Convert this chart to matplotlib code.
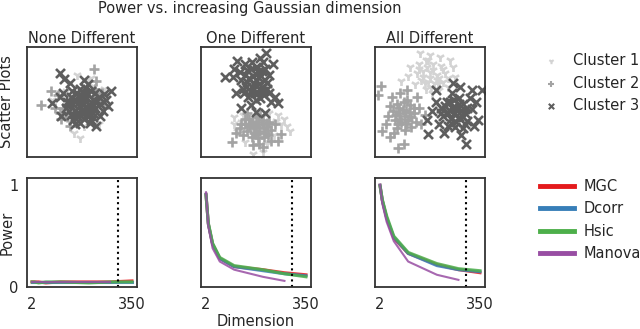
import matplotlib
matplotlib.use("Agg")
import matplotlib.pyplot as plt
import numpy as np

# ---- data ----
titles = ["None Different", "One Different", "All Different"]
cluster_names = ["Cluster 1", "Cluster 2", "Cluster 3"]

# scatter points (fractions of the panel), one list per cluster per panel
none_c1 = [(0.45, 0.55), (0.55, 0.50), (0.50, 0.45), (0.60, 0.58), (0.40, 0.45), (0.48, 0.17),
           (0.43, 0.22), (0.45, 0.75), (0.23, 0.52), (0.65, 0.30), (0.55, 0.70), (0.60, 0.65),
           (0.35, 0.60), (0.68, 0.55), (0.52, 0.28), (0.38, 0.33), (0.58, 0.72), (0.70, 0.62)]
none_c2 = [(0.61, 0.80), (0.63, 0.69), (0.13, 0.47), (0.22, 0.60), (0.31, 0.35), (0.39, 0.28),
           (0.66, 0.50), (0.33, 0.45), (0.62, 0.62), (0.28, 0.56), (0.45, 0.50), (0.52, 0.56),
           (0.56, 0.44), (0.42, 0.40), (0.50, 0.38), (0.70, 0.45), (0.36, 0.36), (0.30, 0.40),
           (0.68, 0.58), (0.25, 0.45)]
none_c3 = [(0.40, 0.55), (0.45, 0.58), (0.50, 0.55), (0.55, 0.57), (0.60, 0.52), (0.42, 0.48),
           (0.47, 0.50), (0.52, 0.48), (0.57, 0.46), (0.62, 0.45), (0.38, 0.42), (0.44, 0.43),
           (0.50, 0.42), (0.55, 0.40), (0.60, 0.40), (0.46, 0.36), (0.52, 0.35), (0.58, 0.34),
           (0.36, 0.50), (0.48, 0.62), (0.53, 0.63), (0.58, 0.60), (0.65, 0.55), (0.66, 0.48),
           (0.40, 0.38), (0.30, 0.76), (0.34, 0.71), (0.23, 0.49), (0.39, 0.67), (0.76, 0.60),
           (0.74, 0.46), (0.72, 0.52), (0.66, 0.37), (0.48, 0.31), (0.44, 0.30), (0.57, 0.31),
           (0.63, 0.28), (0.31, 0.37), (0.52, 0.70), (0.30, 0.55), (0.69, 0.42),
           (0.43, 0.52), (0.48, 0.46), (0.53, 0.52), (0.58, 0.50), (0.45, 0.40), (0.51, 0.39),
           (0.56, 0.43), (0.41, 0.60), (0.50, 0.59), (0.62, 0.58), (0.35, 0.45), (0.63, 0.50),
           (0.54, 0.45), (0.47, 0.55), (0.39, 0.50), (0.60, 0.36), (0.42, 0.34), (0.33, 0.58),
           (0.70, 0.57), (0.55, 0.66)]

one_c1 = [(0.30, 0.36), (0.81, 0.24), (0.47, 0.03), (0.56, 0.05), (0.70, 0.38), (0.73, 0.30),
          (0.33, 0.24), (0.36, 0.32), (0.75, 0.35), (0.62, 0.40), (0.40, 0.14), (0.60, 0.12),
          (0.66, 0.20), (0.30, 0.30), (0.45, 0.26), (0.55, 0.20), (0.38, 0.38), (0.78, 0.28),
          (0.50, 0.32), (0.68, 0.33)]
one_c2 = [(0.45, 0.30), (0.50, 0.28), (0.55, 0.30), (0.60, 0.27), (0.42, 0.24), (0.48, 0.22),
          (0.53, 0.24), (0.58, 0.22), (0.64, 0.25), (0.40, 0.30), (0.46, 0.18), (0.52, 0.17),
          (0.57, 0.18), (0.44, 0.35), (0.50, 0.36), (0.56, 0.34), (0.62, 0.32), (0.35, 0.26),
          (0.38, 0.20), (0.28, 0.14), (0.53, 0.12), (0.64, 0.15), (0.70, 0.15), (0.73, 0.21),
          (0.56, 0.09), (0.47, 0.11), (0.67, 0.30), (0.42, 0.40), (0.48, 0.26), (0.52, 0.32),
          (0.57, 0.26), (0.44, 0.28), (0.50, 0.21), (0.60, 0.31), (0.40, 0.35), (0.54, 0.38),
          (0.61, 0.20), (0.46, 0.32), (0.36, 0.30), (0.32, 0.22)]
one_c3 = [(0.45, 0.80), (0.50, 0.82), (0.55, 0.78), (0.40, 0.75), (0.47, 0.74), (0.53, 0.72),
          (0.58, 0.70), (0.42, 0.68), (0.48, 0.66), (0.55, 0.64), (0.60, 0.62), (0.38, 0.62),
          (0.45, 0.60), (0.52, 0.58), (0.57, 0.56), (0.43, 0.55), (0.50, 0.52), (0.36, 0.70),
          (0.62, 0.75), (0.40, 0.85), (0.56, 0.86), (0.59, 0.95), (0.54, 0.90), (0.33, 0.87),
          (0.22, 0.73), (0.29, 0.73), (0.36, 0.45), (0.50, 0.41), (0.58, 0.40), (0.70, 0.49),
          (0.67, 0.55), (0.64, 0.50), (0.32, 0.58), (0.65, 0.85), (0.30, 0.80), (0.45, 0.47),
          (0.44, 0.72), (0.50, 0.70), (0.52, 0.77), (0.47, 0.63), (0.53, 0.66), (0.42, 0.79),
          (0.49, 0.58), (0.56, 0.60), (0.39, 0.58), (0.58, 0.80), (0.46, 0.86), (0.60, 0.67),
          (0.41, 0.64), (0.54, 0.54), (0.62, 0.58), (0.35, 0.77)]

all_c1 = [(0.41, 0.95), (0.50, 0.93), (0.59, 0.91), (0.32, 0.82), (0.24, 0.69), (0.71, 0.82),
          (0.73, 0.73), (0.58, 0.61), (0.40, 0.85), (0.46, 0.88), (0.53, 0.85), (0.60, 0.83),
          (0.38, 0.76), (0.44, 0.78), (0.50, 0.77), (0.56, 0.75), (0.64, 0.76), (0.42, 0.70),
          (0.48, 0.68), (0.54, 0.67), (0.62, 0.68), (0.36, 0.66), (0.46, 0.62), (0.52, 0.58),
          (0.68, 0.88), (0.30, 0.74), (0.66, 0.64), (0.47, 0.82), (0.53, 0.79), (0.58, 0.72),
          (0.44, 0.73), (0.50, 0.72), (0.56, 0.70), (0.48, 0.88), (0.62, 0.80), (0.40, 0.80),
          (0.51, 0.64), (0.45, 0.67), (0.57, 0.66), (0.66, 0.72)]
all_c2 = [(0.05, 0.65), (0.03, 0.56), (0.06, 0.24), (0.14, 0.18), (0.21, 0.08), (0.26, 0.12),
          (0.15, 0.55), (0.29, 0.61), (0.20, 0.48), (0.26, 0.50), (0.32, 0.47), (0.16, 0.42),
          (0.22, 0.40), (0.28, 0.42), (0.35, 0.40), (0.18, 0.34), (0.24, 0.32), (0.30, 0.34),
          (0.37, 0.32), (0.12, 0.37), (0.20, 0.26), (0.27, 0.25), (0.33, 0.27), (0.40, 0.45),
          (0.10, 0.30), (0.42, 0.30), (0.38, 0.55), (0.23, 0.58), (0.17, 0.22), (0.45, 0.38),
          (0.22, 0.45), (0.27, 0.37), (0.31, 0.41), (0.19, 0.38), (0.25, 0.43), (0.33, 0.36),
          (0.28, 0.30), (0.23, 0.35), (0.35, 0.45), (0.14, 0.46), (0.29, 0.52), (0.21, 0.30)]
all_c3 = [(0.97, 0.61), (0.88, 0.61), (0.71, 0.67), (0.77, 0.64), (0.94, 0.34), (0.83, 0.12),
          (0.48, 0.21), (0.47, 0.34), (0.55, 0.61), (0.65, 0.50), (0.72, 0.52), (0.80, 0.48),
          (0.60, 0.45), (0.67, 0.43), (0.74, 0.44), (0.82, 0.40), (0.88, 0.44), (0.62, 0.37),
          (0.69, 0.35), (0.76, 0.36), (0.84, 0.33), (0.66, 0.28), (0.73, 0.27), (0.80, 0.26),
          (0.58, 0.30), (0.90, 0.28), (0.70, 0.58), (0.86, 0.54), (0.55, 0.50), (0.52, 0.42),
          (0.78, 0.20), (0.63, 0.22), (0.92, 0.50), (0.70, 0.45), (0.76, 0.48), (0.72, 0.39),
          (0.78, 0.42), (0.66, 0.40), (0.74, 0.32), (0.80, 0.36), (0.70, 0.30), (0.84, 0.45),
          (0.64, 0.46), (0.76, 0.54), (0.68, 0.50), (0.82, 0.30), (0.60, 0.40)]

scatter_sets = [[none_c1, none_c2, none_c3],
                [one_c1, one_c2, one_c3],
                [all_c1, all_c2, all_c3]]

# power curves
dims = [2, 10, 25, 50, 100, 200, 275, 350]
dims_manova = [2, 10, 25, 50, 100, 200, 275]
methods = ["MGC", "Dcorr", "Hsic", "Manova"]

none_power = {
    "MGC":    [0.05, 0.05, 0.05, 0.04, 0.05, 0.05, 0.05, 0.06],
    "Dcorr":  [0.05, 0.05, 0.05, 0.05, 0.05, 0.05, 0.05, 0.05],
    "Hsic":   [0.05, 0.05, 0.04, 0.05, 0.05, 0.04, 0.05, 0.05],
    "Manova": [0.05, 0.05, 0.05, 0.05, 0.05, 0.05, 0.05],
}
one_power = {
    "MGC":    [0.91, 0.62, 0.42, 0.28, 0.20, 0.17, 0.14, 0.12],
    "Dcorr":  [0.91, 0.62, 0.42, 0.28, 0.20, 0.16, 0.13, 0.11],
    "Hsic":   [0.90, 0.63, 0.43, 0.29, 0.21, 0.17, 0.13, 0.10],
    "Manova": [0.93, 0.60, 0.38, 0.25, 0.17, 0.10, 0.06],
}
all_power = {
    "MGC":    [1.00, 0.85, 0.68, 0.48, 0.33, 0.22, 0.17, 0.14],
    "Dcorr":  [1.00, 0.85, 0.68, 0.49, 0.33, 0.21, 0.17, 0.15],
    "Hsic":   [0.99, 0.86, 0.70, 0.50, 0.34, 0.23, 0.18, 0.16],
    "Manova": [1.00, 0.82, 0.64, 0.45, 0.25, 0.12, 0.07],
}
power_sets = [none_power, one_power, all_power]
cutoff = 300

# ---- style ----
cluster_markers = ["1", "+", "x"]
cluster_colors = ["#d3d3d3", "#a3a3a3", "#5e5e5e"]
method_colors = {"MGC": "#e41a1c", "Dcorr": "#377eb8", "Hsic": "#4daf4a", "Manova": "#984ea3"}
edge = "#333333"
fs = 10.5

plt.rcParams["font.family"] = "DejaVu Sans"
plt.rcParams["text.color"] = "#262626"
plt.rcParams["axes.labelcolor"] = "#262626"
plt.rcParams["xtick.color"] = "#262626"
plt.rcParams["ytick.color"] = "#262626"

fig = plt.figure(figsize=(6.4, 3.29), dpi=100)

lefts = [27 / 640, 201 / 640, 375 / 640]
w = 110 / 640
top_ax = []
bot_ax = []
for i in range(3):
    top_ax.append(fig.add_axes([lefts[i], 1 - 157 / 329, w, 110 / 329]))
    bot_ax.append(fig.add_axes([lefts[i], 1 - 287 / 329, w, 109 / 329]))

def style_box(ax):
    for s in ax.spines.values():
        s.set_color(edge)
        s.set_linewidth(1.3)

# scatter row
handles_c = []
for i, ax in enumerate(top_ax):
    for k, pts in enumerate(scatter_sets[i]):
        pts = np.array(pts)
        h = ax.scatter(pts[:, 0], pts[:, 1], marker=cluster_markers[k], s=42,
                       color=cluster_colors[k], linewidths=1.9, label=cluster_names[k])
        if i == 0:
            handles_c.append(h)
    ax.set_xlim(0, 1)
    ax.set_ylim(0, 1)
    ax.set_xticks([])
    ax.set_yticks([])
    ax.set_title(titles[i], fontsize=fs, pad=3)
    style_box(ax)
top_ax[0].set_ylabel("Scatter Plots", fontsize=fs)
top_ax[0].yaxis.set_label_coords(-0.115, 0.5)

# power row
handles_m = []
for i, ax in enumerate(bot_ax):
    p = power_sets[i]
    for m in methods:
        xs = dims_manova if m == "Manova" else dims
        lw = 1.5 if m == "Manova" else 2.2
        h, = ax.plot(xs, p[m], color=method_colors[m], lw=lw, alpha=0.85, label=m)
        if i == 0:
            handles_m.append(h)
    ax.axvline(cutoff, color="black", ls=":", lw=1.5)
    ax.set_ylim(0, 1.07)
    ax.set_xticks([2, 350])
    ax.tick_params(length=0, labelsize=fs)
    ax.tick_params(axis="x", pad=7)
    ax.tick_params(axis="y", pad=6)
    if i == 0:
        ax.set_yticks([0, 1])
    else:
        ax.set_yticks([])
    style_box(ax)
bot_ax[0].set_ylabel("Power", fontsize=fs)
bot_ax[0].yaxis.set_label_coords(-0.115, 0.5)
bot_ax[1].set_xlabel("Dimension", fontsize=fs, labelpad=2)

fig.text(250 / 640, 1 - 9 / 329, "Power vs. increasing Gaussian dimension",
         ha="center", va="center", fontsize=fs)

leg1 = fig.legend(handles=handles_c, labels=cluster_names, loc="center left",
                  bbox_to_anchor=(531 / 640, 1 - 83 / 329), frameon=False, fontsize=fs,
                  markerscale=0.6, handlelength=1.0, handletextpad=1.0, labelspacing=0.5)
for h in leg1.legend_handles:
    h.set_linewidth(1.5)

leg2 = fig.legend(handles=handles_m, labels=methods, loc="center left",
                  bbox_to_anchor=(527 / 640, 1 - 220 / 329), frameon=False, fontsize=fs,
                  handlelength=2.3, handletextpad=0.7, labelspacing=0.5)
for h in leg2.legend_handles:
    h.set_linewidth(3.5)
    h.set_alpha(1.0)

fig.savefig("out.png", dpi=100)
